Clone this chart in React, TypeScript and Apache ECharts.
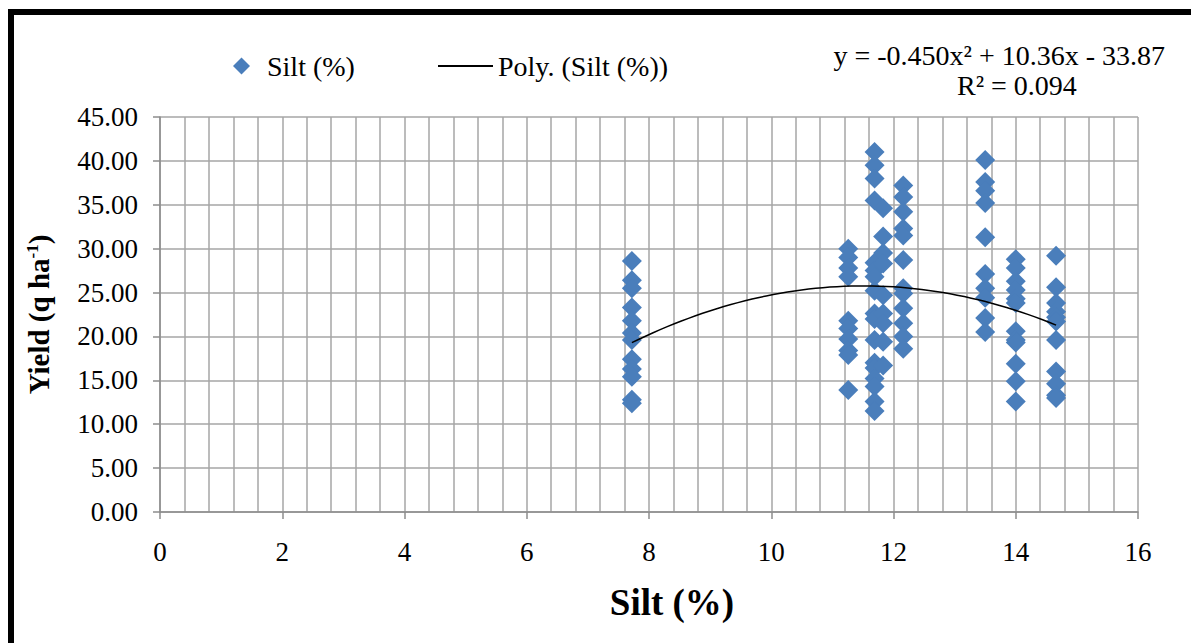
import React, { useEffect, useRef } from "react";
import * as echarts from "echarts";

const siltLevels = [7.72, 11.26, 11.69, 11.83, 12.16, 13.5, 14.0, 14.66];
const yieldAt7_72 = [28.6, 26.4, 25.5, 23.3, 21.8, 20.4, 19.6, 17.4, 16.3, 15.4, 12.8, 12.4];
const yieldAt11_26 = [30.0, 29.0, 27.8, 26.8, 21.8, 20.9, 19.7, 18.4, 17.9, 13.9];
const yieldAt11_69 = [41.0, 39.5, 38.0, 35.5, 28.4, 27.5, 26.8, 25.2, 22.6, 22.0, 19.6, 17.0, 16.4, 15.2, 14.3, 12.6, 11.5];
const yieldAt11_83 = [34.6, 31.4, 29.5, 28.3, 24.7, 22.6, 21.5, 19.4, 16.7];
const yieldAt12_16 = [37.2, 35.9, 34.2, 32.3, 31.5, 28.7, 25.5, 24.9, 23.2, 21.5, 20.0, 18.6];
const yieldAt13_5 = [40.1, 37.6, 36.6, 35.2, 31.3, 27.1, 25.5, 24.4, 22.1, 20.5];
const yieldAt14_0 = [28.8, 27.8, 26.3, 25.3, 24.3, 23.8, 20.6, 19.6, 19.3, 16.9, 14.9, 12.6];
const yieldAt14_66 = [29.2, 25.6, 23.8, 22.8, 22.2, 21.7, 19.6, 16.0, 14.6, 13.3, 13.0];
const yieldColumns = [
  yieldAt7_72, yieldAt11_26, yieldAt11_69, yieldAt11_83,
  yieldAt12_16, yieldAt13_5, yieldAt14_0, yieldAt14_66,
];

// Polynomial trendline coefficients as displayed on the chart
const polyA = -0.45;
const polyB = 10.36;
const polyC = -33.87;
const trendFrom = 7.72;
const trendTo = 14.66;

const seriesName = "Silt (%)";
const trendName = "Poly. (Silt (%))";
const equationText = "y = -0.450x² + 10.36x - 33.87";
const r2Text = "R² = 0.094";

const FONT = "Liberation Serif";

export default function App() {
  const ref = useRef<HTMLDivElement>(null);

  useEffect(() => {
    if (!ref.current) return;
    const chart = echarts.init(ref.current, undefined, { renderer: "svg" });

    const points: number[][] = [];
    siltLevels.forEach((x, i) => {
      yieldColumns[i].forEach((y) => points.push([x, y]));
    });

    const trend: number[][] = [];
    const steps = 60;
    for (let k = 0; k <= steps; k++) {
      const x = trendFrom + ((trendTo - trendFrom) * k) / steps;
      trend.push([x, polyA * x * x + polyB * x + polyC]);
    }

    const gridColor = "#a6a6a6";

    chart.setOption({
      animation: false,
      backgroundColor: "#ffffff",
      textStyle: { fontFamily: FONT, color: "#000" },
      grid: { left: 160, right: 53, top: 117, bottom: 131 },
      legend: [
        {
          data: [seriesName],
          left: 228,
          top: 47,
          icon: "diamond",
          itemWidth: 17,
          itemHeight: 17,
          textStyle: { fontFamily: FONT, fontSize: 28, color: "#000", padding: [0, 0, 0, 12] },
        },
        {
          data: [{ name: trendName, icon: "rect" }],
          left: 433,
          top: 47,
          itemWidth: 55,
          itemHeight: 2,
          itemStyle: { color: "#000" },
          textStyle: { fontFamily: FONT, fontSize: 28, color: "#000" },
        },
      ],
      xAxis: {
        type: "value",
        min: 0,
        max: 16,
        interval: 2,
        name: "Silt (%)",
        nameLocation: "middle",
        nameGap: 72,
        nameTextStyle: {
          fontFamily: FONT,
          fontSize: 37,
          fontWeight: "bold",
          color: "#000",
          padding: [0, 0, 0, 46],
        },
        axisLine: { show: true, onZero: false, lineStyle: { color: "#8c8c8c", width: 1.5 } },
        axisTick: { show: true, length: 7, lineStyle: { color: "#8c8c8c", width: 1.5 } },
        axisLabel: { fontFamily: FONT, fontSize: 27, color: "#000", margin: 26 },
        splitLine: { show: true, lineStyle: { color: gridColor, width: 1.5 } },
        minorTick: { show: false, splitNumber: 5 },
        minorSplitLine: { show: true, lineStyle: { color: gridColor, width: 1.5 } },
      },
      yAxis: {
        type: "value",
        min: 0,
        max: 45,
        interval: 5,
        name: "Yield (q ha{sup|-1})",
        nameLocation: "middle",
        nameGap: 107,
        nameRotate: 90,
        nameTextStyle: {
          fontFamily: FONT,
          fontSize: 29,
          fontWeight: "bold",
          color: "#000",
          rich: {
            sup: {
              fontFamily: FONT,
              fontSize: 17,
              fontWeight: "bold",
              color: "#000",
              padding: [0, 0, 12, 0],
            },
          },
        },
        axisLine: { show: true, lineStyle: { color: "#8c8c8c", width: 1.5 } },
        axisTick: { show: true, length: 7, lineStyle: { color: "#8c8c8c", width: 1.5 } },
        axisLabel: {
          fontFamily: FONT,
          fontSize: 27,
          color: "#000",
          margin: 22,
          formatter: (v: number) => v.toFixed(2),
        },
        splitLine: { show: true, lineStyle: { color: gridColor, width: 1.5 } },
      },
      graphic: [
        {
          type: "rect",
          silent: true,
          shape: { x: 11, y: 12, width: 1400, height: 900 },
          style: { fill: "none", stroke: "#000", lineWidth: 6 },
          z: 100,
        },
        {
          type: "text",
          right: 26,
          top: 41,
          style: {
            text: equationText,
            fontFamily: FONT,
            fontSize: 28,
            fill: "#000",
          },
        },
        {
          type: "text",
          left: 957,
          top: 71,
          style: {
            text: r2Text,
            fontFamily: FONT,
            fontSize: 28,
            fill: "#000",
          },
        },
      ],
      series: [
        {
          name: seriesName,
          type: "scatter",
          symbol: "diamond",
          symbolSize: 20,
          itemStyle: { color: "#4A7EBB", opacity: 1 },
          data: points,
          z: 2,
        },
        {
          name: trendName,
          type: "line",
          symbol: "none",
          smooth: false,
          lineStyle: { color: "#000", width: 1.5 },
          itemStyle: { color: "#000" },
          data: trend,
          z: 3,
        },
      ],
    });

    return () => chart.dispose();
  }, []);

  return (
    <div
      ref={ref}
      style={{ position: "fixed", left: 0, top: 0, width: 1191, height: 643, background: "#fff" }}
    />
  );
}
